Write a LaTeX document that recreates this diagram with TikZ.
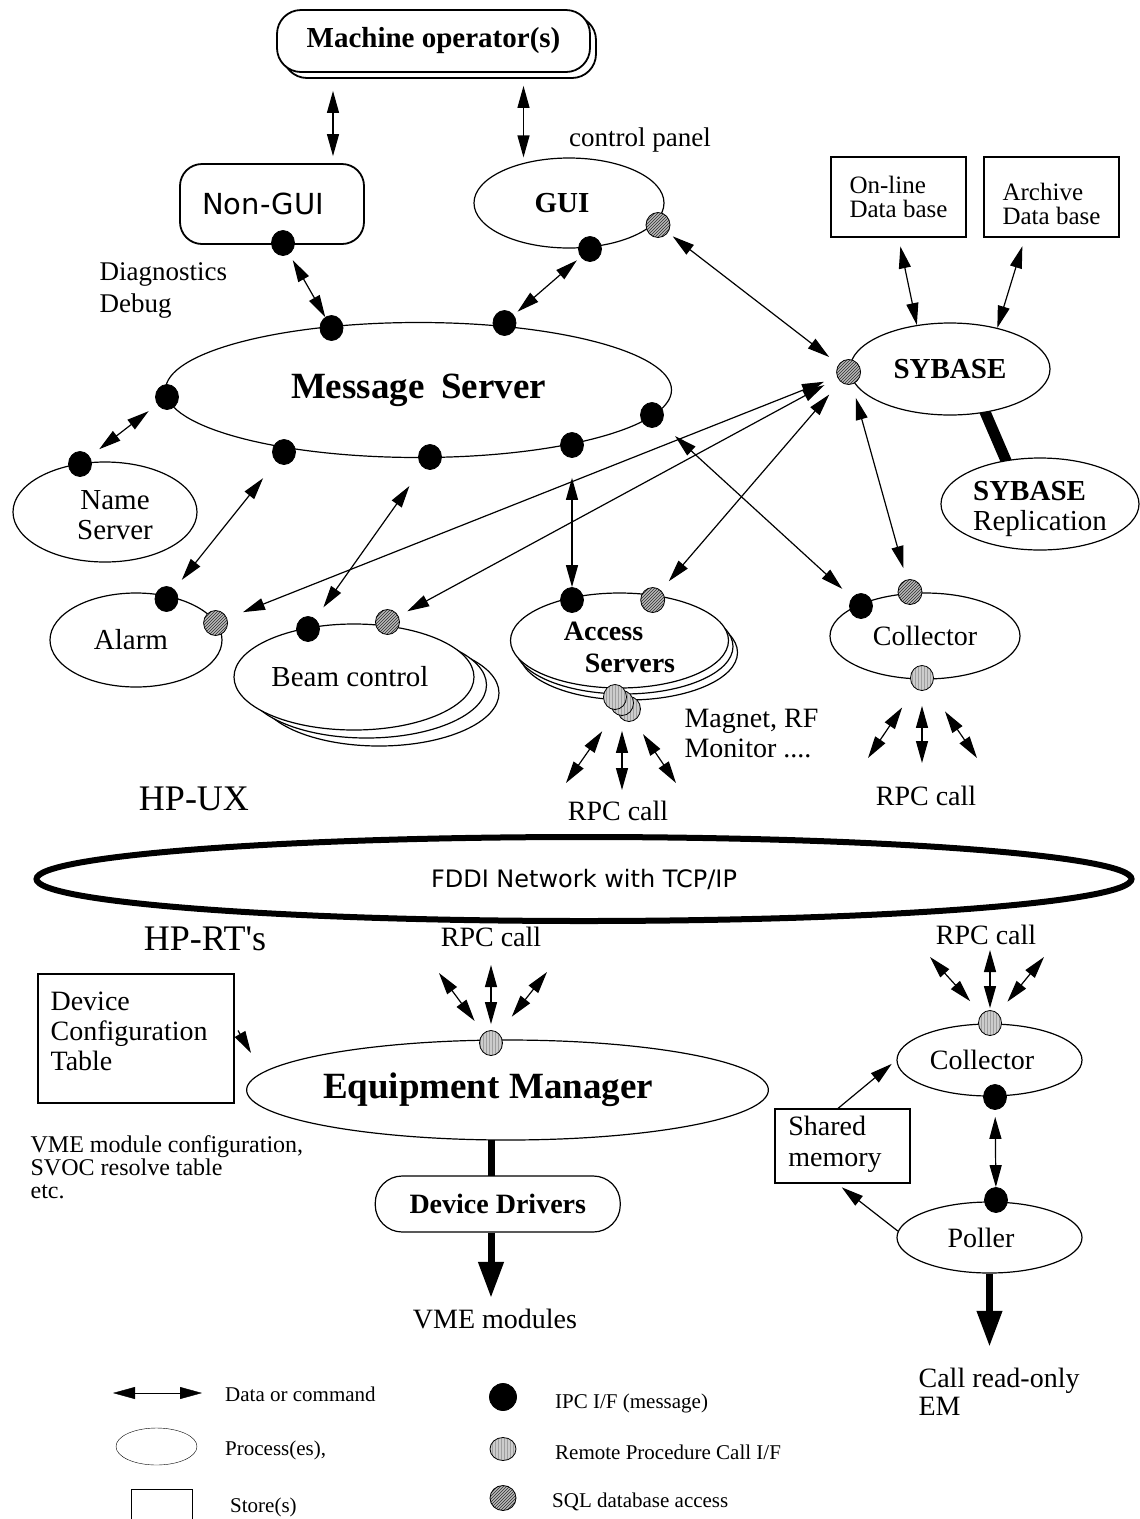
\documentclass[tikz,border=0pt]{standalone}
\usepackage{fontspec}
\setmainfont{Liberation Serif}
\newfontfamily\sansf{DejaVu Sans}
\usetikzlibrary{arrows.meta,shapes.geometric,patterns}
\newcommand\fs[2]{\fontsize{#1}{#2}\selectfont}
\newcommand\mlt[2]{\begin{tabular}{@{}#1@{}}#2\end{tabular}}
\newcommand\mltt[2]{\begin{tabular}[t]{@{}#1@{}}#2\end{tabular}}
% first baseline raised by #1 above the node centre
\newcommand\bl[2]{\raisebox{#1}[0pt][0pt]{#2}}
\pgfdeclarelayer{background}
\pgfsetlayers{background,main}
\tikzset{
  txt/.style={inner sep=0pt},
  proc/.style={ellipse, draw, fill=white, inner sep=0pt},
  store/.style={rectangle, draw, fill=white, inner sep=0pt},
  ipc/.style={ellipse, draw, fill=black, line width=0.8pt, minimum width=23pt, minimum height=25pt, inner sep=0pt},
  rpcd/.style={ellipse, draw, line width=0.8pt, minimum width=23pt, minimum height=25pt, inner sep=0pt, preaction={fill=gray!40}, pattern=vertical lines, pattern color=gray!75},
  sqld/.style={ellipse, draw, line width=0.8pt, minimum width=24pt, minimum height=25pt, inner sep=0pt, preaction={fill=gray!55}, pattern=north east lines, pattern color=gray!35!black},
  dar/.style={<->},
  sar/.style={->},
  bigar/.style={line width=7pt, -{Triangle[length=36pt,width=24pt]}},
}
\begin{document}
\begin{tikzpicture}[x=1pt, y=-1pt, line width=1.2pt, >={Triangle[length=22pt,width=12pt]}]
\useasboundingbox (0,0) rectangle (1140,1519);

% ---------- upper part (HP-UX) ----------
\node[draw, fill=white, rounded corners=24pt, minimum width=313pt, minimum height=62pt, line width=1.8pt] (opsh) at (439.5,47) {};
\node[draw, fill=white, rounded corners=24pt, minimum width=313pt, minimum height=62pt, line width=1.8pt, font=\fs{29}{34}\bfseries] (op) at (433.5,41) {Machine operator(s)};
\node[draw, fill=white, rounded corners=22pt, minimum width=184pt, minimum height=80pt, line width=1.8pt, font=\sansf\fs{29}{34}] (nongui) at (272,204) {Non-GUI\hspace*{18pt}};
\node[proc, minimum width=190pt, minimum height=90pt, font=\fs{29}{34}\bfseries] (gui) at (569,203) {GUI\hspace*{14pt}};
\node[txt, anchor=base, font=\fs{27}{30}] (cpanel) at (640,146) {control panel};
\node[txt, anchor=base west, font=\fs{27}{32}] (diag) at (99,280) {\mltt{l}{Diagnostics\\Debug}};
\node[proc, minimum width=506pt, minimum height=135pt, font=\fs{37}{42}\bfseries] (ms) at (418.5,390) {Message\hspace{0.45em}Server};
\node[store, minimum width=135pt, minimum height=80pt, font=\fs{25}{24}] (online) at (898.5,197) {\bl{4pt}{\mltt{l}{On-line\\Data base}}};
\node[store, minimum width=135pt, minimum height=80pt, font=\fs{25}{23}] (archive) at (1051.5,197) {\bl{-3pt}{\mltt{l}{Archive\\Data base}}};
\node[proc, minimum width=200pt, minimum height=92pt, font=\fs{29}{34}\bfseries] (sybase) at (950,369) {SYBASE};
\node[proc, minimum width=198pt, minimum height=92pt, font=\fs{29}{30}] (repl) at (1040,504) {\bl{4pt}{\mltt{l}{\textbf{SYBASE}\\Replication}}};
\node[proc, minimum width=184pt, minimum height=100pt, font=\fs{29}{30}] (name) at (105,512) {\hspace*{20pt}\bl{3pt}{\mltt{c}{Name\\Server}}};
\node[proc, minimum width=172pt, minimum height=94pt, font=\fs{29}{34}] (alarm) at (136,640) {Alarm\hspace*{10pt}};
\node[proc, minimum width=240pt, minimum height=106pt] (beamb) at (379,693) {};
\node[proc, minimum width=240pt, minimum height=106pt] (beama) at (366.5,685) {};
\node[proc, minimum width=240pt, minimum height=106pt, font=\fs{29}{34}] (beam) at (354,677) {Beam control\hspace*{8pt}};
\node[proc, minimum width=218pt, minimum height=95pt] (accb) at (628.5,652.5) {};
\node[proc, minimum width=218pt, minimum height=95pt] (acca) at (624,646.5) {};
\node[proc, minimum width=218pt, minimum height=95pt, font=\fs{28}{32}\bfseries] (acc) at (619.5,640.5) {\bl{0.5pt}{\mltt{l}{Access\\\hspace*{21pt}Servers}}};
\node[proc, minimum width=190pt, minimum height=86pt, font=\fs{28}{32}] (coll) at (925,636) {Collector};
\node[txt, anchor=base west, font=\fs{28}{30}] (magnet) at (684,727) {\mltt{l}{Magnet, RF\\Monitor ....}};
\node[txt, anchor=base, font=\fs{28}{30}] (rpc1) at (618,820) {RPC call};
\node[txt, anchor=base, font=\fs{28}{30}] (rpc2) at (926,805) {RPC call};
\node[txt, anchor=base, font=\fs{36}{40}] (hpux) at (194,810) {HP-UX};

% ---------- network ----------
\node[ellipse, draw, line width=6pt, minimum width=1095pt, minimum height=84pt, inner sep=0pt, font=\sansf\fs{24}{28}] (fddi) at (584,879) {\raisebox{2pt}{FDDI Network with TCP/IP}};

% ---------- lower part (HP-RT) ----------
\node[txt, anchor=base, font=\fs{36}{40}] (hprt) at (205,950) {HP-RT\textquotesingle s};
\node[txt, anchor=base, font=\fs{28}{30}] (rpc3) at (491,946) {RPC call};
\node[txt, anchor=base, font=\fs{28}{30}] (rpc4) at (986,944) {RPC call};
\node[store, minimum width=196pt, minimum height=129pt, line width=2pt] (dct) at (136,1038.5) {};
\node[txt, anchor=base west, font=\fs{28}{30}] (dctt) at (50,1010) {\mltt{l}{Device\\Configuration\\Table}};
\node[txt, anchor=base west, font=\fs{24}{23}] (vmecfg) at (30,1152) {\mltt{l}{VME module configuration,\\SVOC resolve table\\etc.}};
\node[proc, minimum width=460pt, minimum height=100pt, font=\fs{37}{42}\bfseries] (em) at (507.5,1090) {Equipment Manager\hspace*{39pt}};
\node[draw, fill=white, rounded corners=27pt, minimum width=245pt, minimum height=56pt, inner sep=0pt, font=\fs{28}{32}\bfseries] (dd) at (497.75,1204) {Device Drivers};
\node[txt, anchor=base, font=\fs{28}{30}] (vme) at (495,1328) {VME modules};
\node[proc, minimum width=185pt, minimum height=72pt, font=\fs{28}{32}] (c2) at (989.5,1060) {Collector\hspace*{15pt}};
\node[proc, minimum width=185pt, minimum height=71pt, font=\fs{28}{32}] (poller) at (989.5,1237.5) {Poller\hspace*{17pt}};
\node[store, minimum width=135pt, minimum height=74pt, font=\fs{28}{31}] (shm) at (842.5,1146) {\bl{11pt}{\mltt{l}{Shared\\memory}}\hspace*{15pt}};
\node[txt, anchor=base west, font=\fs{28}{28}] (callro) at (918,1387) {\mltt{l}{Call read-only\\EM}};

% ---------- interface dots ----------
\node[ipc] (ngdot) at (283,243) {};
\node[ipc] (guidot) at (590,249) {};
\node[sqld] (guisql) at (658,225) {};
\node[ipc] (ms1) at (331.5,328) {};
\node[ipc] (ms2) at (504.5,323) {};
\node[ipc] (ms3) at (167,397) {};
\node[ipc] (ms4) at (284,452) {};
\node[ipc] (ms5) at (430,457) {};
\node[ipc] (ms6) at (572,445) {};
\node[ipc] (ms7) at (652,415) {};
\node[sqld] (sybsql) at (848.6,372) {};
\node[ipc] (namedot) at (80,464) {};
\node[ipc] (alarmdot) at (166.5,599) {};
\node[sqld] (alarmsql) at (215.6,623) {};
\node[ipc] (beamdot) at (308,629) {};
\node[sqld] (beamsql) at (387.5,622) {};
\node[ipc] (accdot) at (572,600) {};
\node[sqld] (accsql) at (652.7,600) {};
\node[rpcd] (accrpc3) at (629,709) {};
\node[rpcd] (accrpc2) at (622,703) {};
\node[rpcd] (accrpc1) at (615,697) {};
\node[ipc] (coldot) at (861,606) {};
\node[sqld] (colsql) at (910,592) {};
\node[rpcd] (colrpc) at (922,678) {};
\node[rpcd] (emrpc) at (491,1043) {};
\node[rpcd] (c2rpc) at (990,1023) {};
\node[ipc] (c2dot) at (995,1097) {};
\node[ipc] (polldot) at (996,1200) {};

% ---------- connectors ----------
\coordinate (xa) at (333,0);
\coordinate (xb) at (523.5,0);
\draw[dar, shorten <=18pt, shorten >=7pt] (op.south -| xa) -- (nongui.north -| xa);
\draw[dar, shorten <=13pt] (op.south -| xb) -- (gui.north -| xb);
\draw[dar, shorten <=7pt] (ngdot) -- (ms1);
\draw[dar, shorten <=5pt, shorten >=5pt] (guidot) -- (ms2);
\draw[dar, shorten <=6pt, shorten >=12pt] (guisql) -- (sybsql);
\draw[dar, shorten <=9pt] (online.south) -- (sybase.127);
\draw[dar, shorten <=9pt] ([xshift=-26.5pt]archive.south) -- (sybase.41);
\draw[dar, shorten <=11pt, shorten >=12pt] (ms3) -- (namedot);
\draw[dar, shorten <=21pt, shorten >=12pt] (ms4) -- (alarmdot);
\draw[dar, shorten <=23pt, shorten >=14pt] (ms5) -- (beamdot);
\draw[dar, shorten <=20pt] (ms6) -- (accdot);
\draw[dar, shorten <=19pt, shorten >=13pt] (ms7) -- (coldot);
\draw[dar, shorten <=17pt, shorten >=14pt] (alarmsql) -- (sybsql);
\draw[dar, shorten <=10pt, shorten >=15pt] (beamsql) -- (sybsql);
\draw[dar, shorten <=12pt, shorten >=17pt] (accsql) -- (sybsql);
\draw[dar, shorten <=12pt, shorten >=14pt] (colsql) -- (sybsql);

\coordinate (af1) at (566,783);
\coordinate (af2) at (622,790);
\coordinate (af3) at (676,783);
\draw[dar, shorten <=22pt] (accrpc2) -- (af1);
\draw[dar, shorten <=15pt] (accrpc2) -- (af2);
\draw[dar, shorten <=25pt] (accrpc2) -- (af3);
\coordinate (cf1) at (868,758);
\coordinate (cf2) at (922,763);
\coordinate (cf3) at (977,758);
\draw[dar, shorten <=23pt] (colrpc) -- (cf1);
\draw[dar, shorten <=15pt] (colrpc) -- (cf2);
\draw[dar, shorten <=28pt] (colrpc) -- (cf3);
\coordinate (ef1) at (439,973);
\coordinate (ef2) at (491,965);
\coordinate (ef3) at (547,972);
\draw[dar, shorten <=15pt] (emrpc) -- (ef1);
\draw[dar, shorten <=6pt] (emrpc) -- (ef2);
\draw[dar, shorten <=21pt] (emrpc) -- (ef3);
\coordinate (gf1) at (930,957);
\coordinate (gf2) at (990,950);
\coordinate (gf3) at (1044,957);
\draw[dar, shorten <=17pt] (c2rpc) -- (gf1);
\draw[dar, shorten <=2pt] (c2rpc) -- (gf2);
\draw[dar, shorten <=15pt] (c2rpc) -- (gf3);

\draw[sar] ([xshift=3pt,yshift=8pt]dct.east) -- ([xshift=5pt,yshift=37pt]em.west);
\draw[sar, shorten >=6pt] ([xshift=-4.5pt]shm.north) -- (c2.west);
\draw[sar, shorten >=6pt] (poller.176) -- ([xshift=-5.5pt]shm.south);
\draw[dar, shorten <=7pt] (c2dot) -- (polldot);
\draw[bigar, shorten >=10pt] (emrpc |- dd.south) -- (emrpc |- vme.north);
\draw[bigar, shorten >=20pt] (poller.south) -- (poller.south |- callro.north);

\begin{pgfonlayer}{background}
\fill[white] (0,0) rectangle (1140,1519);
\draw[line width=11pt, shorten <=-8pt, shorten >=-8pt] (sybase.-51) -- (repl.128);
\draw[line width=7pt, shorten <=-5pt, shorten >=-5pt] (emrpc |- em.south) -- (emrpc |- dd.north);
\end{pgfonlayer}

% ---------- legend ----------
\coordinate (la1) at (113,1393);
\coordinate (la2) at (202,1393);
\draw[dar] (la1) -- (la2);
\node[txt, anchor=base west, font=\fs{21}{24}] (lt1) at (225,1401) {Data or command};
\node[proc, minimum width=81pt, minimum height=37pt] (lproc) at (156.5,1446.5) {};
\node[txt, anchor=base west, font=\fs{21}{24}] (lt2) at (225,1455) {Process(es),};
\node[store, minimum width=61pt, minimum height=60pt, anchor=north] (lstore) at (161.5,1489) {};
\node[txt, anchor=base west, font=\fs{21}{24}] (lt3) at (230,1512) {Store(s)};
\node[ipc, minimum width=27pt, minimum height=27pt] (lipc) at (503,1397) {};
\node[txt, anchor=base west, font=\fs{21}{24}] (lt4) at (555,1408) {IPC I/F (message)};
\node[rpcd, minimum width=26pt, minimum height=23pt] (lrpc) at (503,1449) {};
\node[txt, anchor=base west, font=\fs{21}{24}] (lt5) at (555,1459) {Remote Procedure Call I/F};
\node[sqld, minimum width=26pt, minimum height=25pt] (lsql) at (503,1498) {};
\node[txt, anchor=base west, font=\fs{21}{24}] (lt6) at (552,1507) {SQL database access};
\end{tikzpicture}
\end{document}
